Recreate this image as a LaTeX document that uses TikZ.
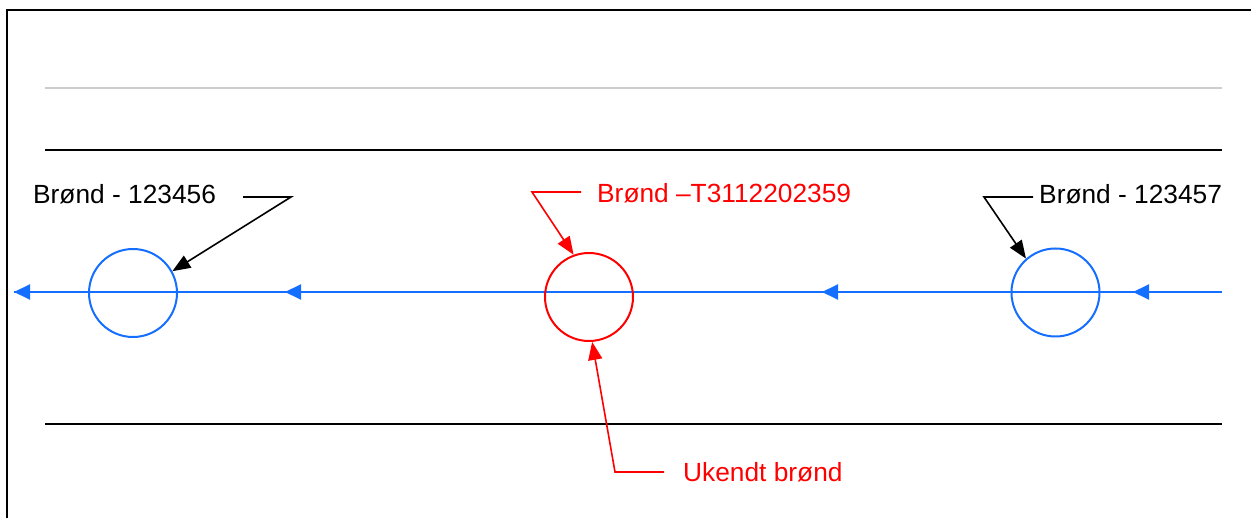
\documentclass[tikz,border=0pt]{standalone}
\usepackage{fontspec}
\setmainfont{Liberation Sans}
\usetikzlibrary{arrows.meta}
\definecolor{pipeblue}{RGB}{20,110,255}
\definecolor{lightgrey}{RGB}{205,205,205}
\tikzset{
  frame/.style={line width=2pt, black},
  road/.style={line width=2pt, black},
  greyline/.style={line width=2pt, lightgrey},
  pipeline/.style={line width=2pt, pipeblue},
  pipe/.style={line width=2pt, pipeblue, -{Triangle[length=16pt,width=15pt]}},
  well/.style={circle, draw, line width=2pt, minimum size=88pt, inner sep=0pt},
  lbl/.style={inner sep=0pt, anchor=base west, font=\fontsize{26.3}{30}\selectfont},
  leader/.style={line width=1.6pt, -{Triangle[length=18pt,width=14pt]}},
}
\begin{document}
\begin{tikzpicture}[x=1pt,y=-1pt]
\useasboundingbox (0,0) rectangle (1251,518);
% frame
\draw[frame] (7,519) -- (7,10) -- (1252,10);
% lines
\draw[greyline] (45,88) -- (1222,88);
\draw[road] (45,150) -- (1222,150);
\draw[road] (45,424) -- (1222,424);
% pipe
\coordinate (p0) at (1222,292);
\coordinate (p1) at (1133,292);
\coordinate (p2) at (822,292);
\coordinate (p3) at (285,292);
\coordinate (p4) at (14,292);
\draw[pipeline] (p0) -- (p4);
\draw[pipe] (p0) -- (p1);
\draw[pipe] (p1) -- (p2);
\draw[pipe] (p2) -- (p3);
\draw[pipe] (p3) -- (p4);
% wells
\node[well, pipeblue] (w1) at (133,293) {};
\node[well, red] (w2) at (589,297) {};
\node[well, pipeblue] (w3) at (1055.5,292.5) {};
% labels
\node[lbl] (l1) at (33,204) {Brønd - 123456};
\node[lbl, text=red] (l2) at (597,203) {Brønd –T3112202359};
\node[lbl] (l3) at (1039,204) {Brønd - 123457};
\node[lbl, text=red] (l4) at (683,482) {Ukendt brønd};
% leaders
\coordinate (a1) at (243,197);
\coordinate (b1) at (291,197);
\draw[leader] (a1) -- (b1) -- (w1.29);
\coordinate (a2) at (581,192);
\coordinate (b2) at (532,192);
\draw[leader, red] (a2) -- (b2) -- (w2.110);
\coordinate (a3) at (1033,197);
\coordinate (b3) at (984,197);
\draw[leader] (a3) -- (b3) -- (w3.131);
\coordinate (a4) at (664,472);
\coordinate (b4) at (615,472);
\draw[leader, red] (a4) -- (b4) -- (w2.-86);
\end{tikzpicture}
\end{document}
